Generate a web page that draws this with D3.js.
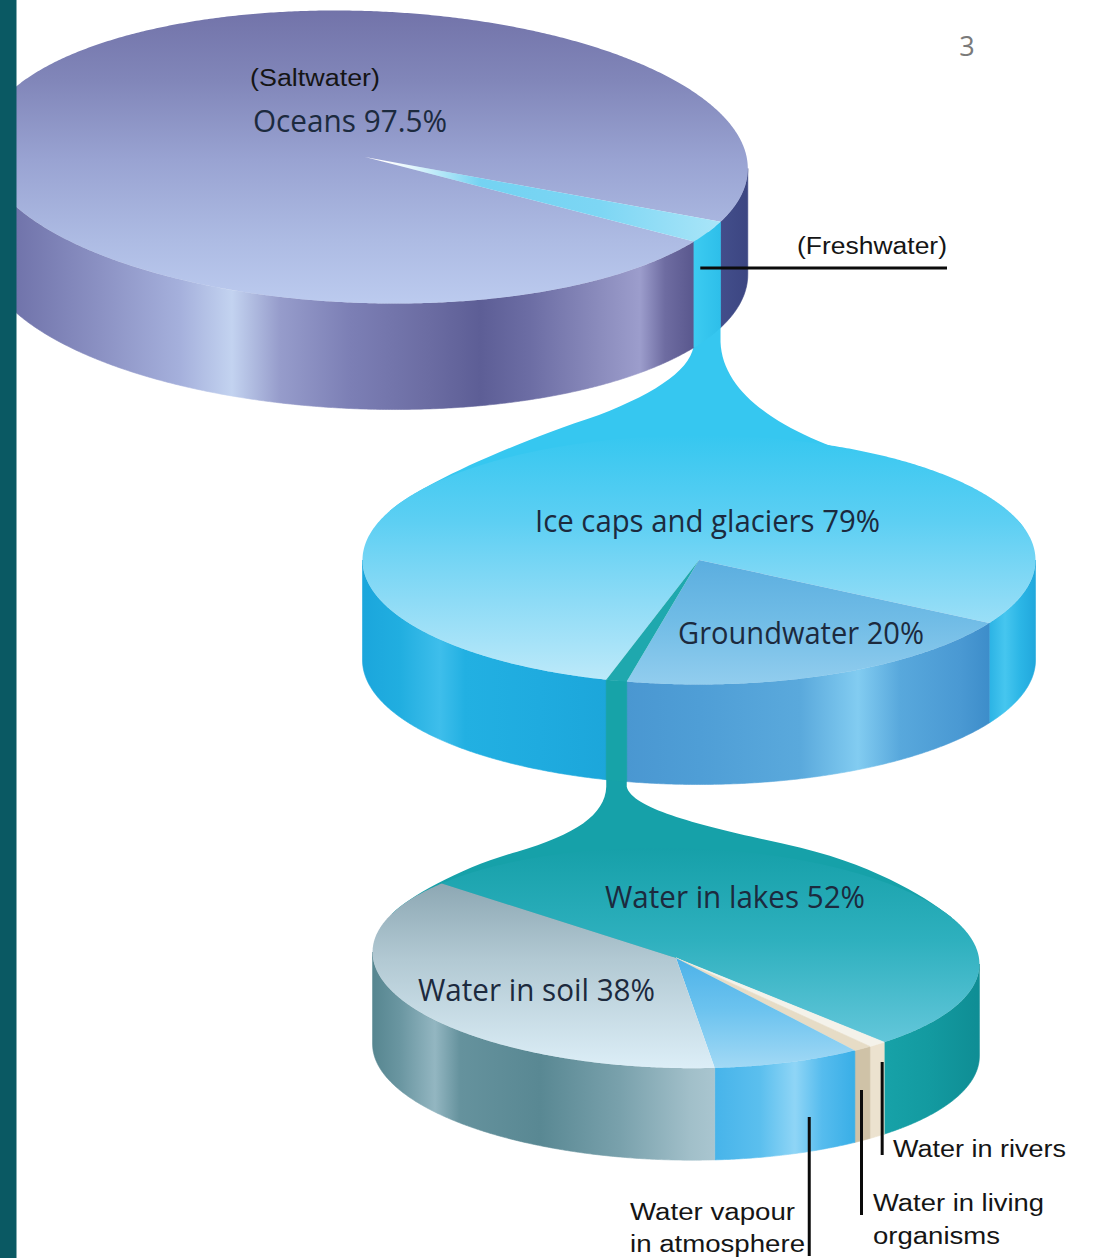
<!DOCTYPE html>
<html>
<head>
<meta charset="utf-8">
<script src="https://cdn.jsdelivr.net/npm/d3@7"></script>
<style>
  html, body { margin: 0; padding: 0; background: #ffffff; }
  svg { display: block; }
</style>
</head>
<body>
<svg id="chart" width="1094" height="1258"></svg>
<script>
// Where the Earth's water is: three stacked 3-D pies, each one breaking down
// a slice of the pie above it.

// All water
const totalLabels = ["Oceans", "Freshwater"];
const totalValues = [97.5, 2.5];

// Freshwater
const freshLabels = ["Ice caps and glaciers", "Groundwater", "Surface water"];
const freshValues = [79, 20, 1];

// Surface water, in clockwise drawing order
const surfaceLabels = ["Water in lakes", "Water in rivers", "Water in living organisms",
                       "Water vapour in atmosphere", "Water in soil"];
const surfaceValues = [52, 1, 1, 8, 38];

// ---------------------------------------------------------------------------
const RAD = Math.PI / 180;
const svg = d3.select("#chart");
const defs = svg.append("defs");

// Disc geometry: centre, radii of the tilted ellipse, rotation, thickness,
// and the angle (d3 convention, degrees) where the first slice starts.
const discs = {
  total:   { cx: 365, cy: 157, a: 383,   b: 146,   phi: 2,   h: 106, start: 120 },
  fresh:   { cx: 699, cy: 560, a: 336.5, b: 124.5, phi: 0,   h: 100, start: 196 },
  surface: { cx: 676, cy: 958, a: 303.5, b: 110,   phi: 1.3, h: 92,  start: 309 }
};

// Point on the rim of a disc; t is measured clockwise from 3 o'clock.
function rim(g, t, z = 0) {
  const c = Math.cos(t), s = Math.sin(t);
  const cp = Math.cos(g.phi * RAD), sp = Math.sin(g.phi * RAD);
  return [g.cx + g.a * c * cp - g.b * s * sp,
          g.cy + g.a * c * sp + g.b * s * cp + z];
}
// unit tangent of the rim, in the direction of increasing t
function rimTangent(g, t) {
  const cp = Math.cos(g.phi * RAD), sp = Math.sin(g.phi * RAD);
  const dx = -g.a * Math.sin(t) * cp - g.b * Math.cos(t) * sp;
  const dy = -g.a * Math.sin(t) * sp + g.b * Math.cos(t) * cp;
  const n = Math.hypot(dx, dy);
  return [dx / n, dy / n];
}
function rimPts(g, t0, t1, z = 0) {
  const n = Math.max(2, Math.ceil(Math.abs(t1 - t0) / 0.008));
  return d3.range(n + 1).map(i => rim(g, t0 + (t1 - t0) * i / n, z));
}
const line = d3.line();

function layout(g, values) {
  return d3.pie().sort(null).value(d => d)
    .startAngle(g.start * RAD).endAngle(g.start * RAD + 2 * Math.PI)(values)
    .map(d => Object.assign(d, { t0: d.startAngle - Math.PI / 2, t1: d.endAngle - Math.PI / 2 }));
}

let gid = 0;
function grad(stops, x1, y1, x2, y2) {
  const id = "grad" + (gid++);
  const lg = defs.append("linearGradient").attr("id", id)
    .attr("gradientUnits", "userSpaceOnUse")
    .attr("x1", x1).attr("y1", y1).attr("x2", x2).attr("y2", y2);
  stops.forEach(([o, c, op]) => lg.append("stop").attr("offset", o)
    .attr("stop-color", c).attr("stop-opacity", op == null ? 1 : op));
  return `url(#${id})`;
}
// gradient along x, stops given as [x, colour]
function hgrad(stops) {
  const x1 = stops[0][0], x2 = stops[stops.length - 1][0];
  return grad(stops.map(([x, c, op]) => [(x - x1) / (x2 - x1), c, op]), x1, 0, x2, 0);
}
// gradient along y, stops given as [y, colour]
function vgrad(stops) {
  const y1 = stops[0][0], y2 = stops[stops.length - 1][0];
  return grad(stops.map(([y, c, op]) => [(y - y1) / (y2 - y1), c, op]), 0, y1, 0, y2);
}

function drawDisc(layer, g, arcs, styles) {
  const phi = g.phi * RAD;
  const tv0 = Math.atan2(-g.b * Math.sin(phi), g.a * Math.cos(phi));
  // front walls
  arcs.forEach((d, i) => {
    for (let k = -1; k <= 1; k++) {
      const lo = Math.max(d.t0, tv0 + 2 * Math.PI * k);
      const hi = Math.min(d.t1, tv0 + Math.PI + 2 * Math.PI * k);
      if (hi > lo) {
        const pts = rimPts(g, lo, hi, 0).concat(rimPts(g, hi, lo, g.h));
        layer.append("path").attr("d", line(pts) + "Z")
          .attr("fill", styles[i].side).attr("stroke", styles[i].side).attr("stroke-width", 0.6);
      }
    }
  });
  // top faces
  arcs.forEach((d, i) => {
    const pts = [[g.cx, g.cy]].concat(rimPts(g, d.t0, d.t1, 0));
    layer.append("path").attr("d", line(pts) + "Z")
      .attr("fill", styles[i].face).attr("stroke", styles[i].faceStroke || "none")
      .attr("stroke-width", 0.6);
  });
}

const totalArcs = layout(discs.total, totalValues);
const freshArcs = layout(discs.fresh, freshValues);
const surfaceArcs = layout(discs.surface, surfaceValues);

const funnelLayer = svg.append("g");
const discLayer = svg.append("g");

// ---- connectors between the discs ----------------------------------------
function mid(d) { return (d.t0 + d.t1) / 2; }

// A flared spout from a thin slice s of disc G down onto disc L.
// Left-hand offsets are relative to the neck; on the right, `fromRim` is
// relative to the rim point and the rest relative to the neck.
function spout(G, s, L, tLeft, tRight, shape, fill) {
  const xL = rim(G, s.t1)[0], xR = rim(G, s.t0)[0];
  const yTop = rim(G, mid(s))[1];
  const neckY = rim(G, mid(s), G.h)[1] + shape.drop;
  const A = rim(L, tLeft * RAD), B = rim(L, tRight * RAD);
  const tA = rimTangent(L, tLeft * RAD), tB = rimTangent(L, tRight * RAD);
  const k = shape.pull;
  const l = shape.left, r = shape.right, f = shape.fromRim;
  const p = d3.path();
  p.moveTo(xL, yTop);
  p.lineTo(xL, neckY);
  p.bezierCurveTo(xL + l[0][0], neckY + l[0][1], xL + l[1][0], neckY + l[1][1], xL + l[2][0], neckY + l[2][1]);
  p.bezierCurveTo(xL + l[3][0], neckY + l[3][1], A[0] + tA[0] * k, A[1] + tA[1] * k, A[0], A[1]);
  p.lineTo(L.cx, L.cy);
  p.lineTo(B[0], B[1]);
  p.bezierCurveTo(B[0] - tB[0] * k, B[1] - tB[1] * k, B[0] + f[0], B[1] + f[1], xR + r[0][0], neckY + r[0][1]);
  p.bezierCurveTo(xR + r[1][0], neckY + r[1][1], xR + r[2][0], neckY + r[2][1], xR, neckY);
  p.lineTo(xR, yTop);
  p.closePath();
  funnelLayer.append("path").attr("d", p.toString()).attr("fill", fill);
}

// freshwater slice pouring into the freshwater disc
spout(discs.total, totalArcs[1], discs.fresh, 203, -15, {
  drop: 4, pull: 34,
  left: [[0, 25], [-35, 50], [-95, 73], [-200, 108]],
  fromRim: [-64, -43],
  right: [[150, 117], [70, 95], [2, 55]]
}, "#36c7f0");

// surface-water slice pouring into the surface-water disc
spout(discs.fresh, freshArcs[2], discs.surface, 200, -25, {
  drop: 6, pull: 26,
  left: [[-1, 28], [-31, 48], [-89, 65], [-146, 81]],
  fromRim: [-70, -50],
  right: [[174, 61], [94, 43], [6, 25]]
}, "#16a1a9");

// ---- colours ---------------------------------------------------------------
const totalStyles = [
  { // oceans
    face: vgrad([[10, "#7273a9"], [80, "#8186b9"], [160, "#99a3d2"], [240, "#adbbe3"], [305, "#bccbef"]]),
    side: hgrad([[17, "#7174ab"], [100, "#8b91c3"], [180, "#a5b0dc"], [232, "#c3d3f0"], [280, "#969ccb"],
                 [350, "#7c7fb5"], [430, "#6b6ca2"], [480, "#5d5e96"], [530, "#6c6da4"], [600, "#8b8cbd"],
                 [640, "#9c9dcc"], [665, "#6e6ca1"], [690, "#5c5a90"], [720, "#434e8b"], [748, "#3c4682"]])
  },
  { // freshwater
    face: hgrad([[385, "#5ccbf0", 0], [410, "#5ccbf0", 0.15], [480, "#5ccbf0", 0.85], [600, "#7dd6f4"], [720, "#a9e5f8"]]),
    side: hgrad([[694, "#3ccbf1"], [720, "#2ebfea"]])
  }
];

const freshStyles = [
  { // ice caps and glaciers
    face: vgrad([[435, "#36c7f0"], [520, "#5ccff3"], [600, "#8ddbf6"], [690, "#c2ebfa"]]),
    side: hgrad([[362, "#1ba6dc"], [400, "#21aee0"], [440, "#3ebeeb"], [465, "#22b0e2"], [540, "#1fabdf"],
                 [610, "#1ca6da"], [985, "#24aee2"], [1005, "#46c6ef"], [1020, "#2cb6e6"], [1036, "#20a7dc"]])
  },
  { // groundwater
    face: vgrad([[557, "#5aaddf"], [620, "#70bce6"], [685, "#92cdee"]]),
    side: hgrad([[626, "#4a97d1"], [700, "#4f9ed6"], [800, "#5aa9dc"], [858, "#82ccf1"], [900, "#58a8dc"],
                 [960, "#4a99d3"], [992, "#3c8cc9"]])
  },
  { // surface water
    face: "#1fa8ae",
    side: "#17a3a8"
  }
];

const surfaceStyles = [
  { // lakes
    face: vgrad([[848, "#16a0a9"], [940, "#2eb0be"], [1045, "#64c7db"]]),
    side: hgrad([[884, "#17a2a8"], [930, "#139aa0"], [976, "#0f8e95"]])
  },
  { // rivers
    face: "#f4f2ea", faceStroke: "#f4f2ea",
    side: "#ece2cf"
  },
  { // living organisms
    face: "#e6dcc6", faceStroke: "#e6dcc6",
    side: "#cfc2a7"
  },
  { // vapour
    face: vgrad([[955, "#4bb1e8"], [1010, "#6cc3ef"], [1068, "#a2d9f5"]]),
    side: hgrad([[715, "#47b4ea"], [760, "#5bbfee"], [795, "#8fd5f6"], [822, "#56bcee"], [858, "#36ade6"]])
  },
  { // soil
    face: vgrad([[880, "#8ba6b2"], [960, "#b2c9d3"], [1068, "#dceef7"]]),
    side: hgrad([[368, "#53838d"], [400, "#6a96a1"], [435, "#93b6c1"], [460, "#65929d"], [540, "#598893"],
                 [620, "#79a1ac"], [690, "#a1bfc9"], [717, "#aac6d0"]])
  }
];

drawDisc(discLayer, discs.surface, surfaceArcs, surfaceStyles);
drawDisc(discLayer, discs.fresh, freshArcs, freshStyles);
drawDisc(discLayer, discs.total, totalArcs, totalStyles);

// ---- labels ------------------------------------------------------------------
const ink = "#1c2a3e";
const labels = svg.append("g");

function bigLabel(text, x, y, width) {
  labels.append("text").attr("x", x).attr("y", y)
    .attr("font-family", "'Open Sans', 'Noto Sans', sans-serif")
    .attr("font-size", 31).attr("fill", ink)
    .attr("textLength", width).attr("lengthAdjust", "spacingAndGlyphs")
    .text(text);
}
function smallLabel(text, x, y, width) {
  labels.append("text").attr("x", x).attr("y", y)
    .attr("font-family", "'Liberation Sans', Arial, sans-serif")
    .attr("font-size", 23).attr("fill", "#151515")
    .attr("textLength", width).attr("lengthAdjust", "spacingAndGlyphs")
    .text(text);
}
const pct = v => d3.format(".3~f")(v) + "%";

smallLabel("(Saltwater)", 250, 86, 130);
bigLabel(`${totalLabels[0]} ${pct(totalValues[0])}`, 253, 132, 194);
smallLabel(`(${totalLabels[1]})`, 797, 254, 150);

bigLabel(`${freshLabels[0]} ${pct(freshValues[0])}`, 535, 532, 345);
bigLabel(`${freshLabels[1]} ${pct(freshValues[1])}`, 678, 644, 246);

bigLabel(`${surfaceLabels[0]} ${pct(surfaceValues[0])}`, 605, 908, 260);
bigLabel(`${surfaceLabels[4]} ${pct(surfaceValues[4])}`, 418, 1001, 237);

smallLabel(surfaceLabels[1], 893, 1157, 173);
smallLabel("Water in living", 873, 1211, 171);
smallLabel("organisms", 873, 1244, 127);
smallLabel("Water vapour", 630, 1220, 165);
smallLabel("in atmosphere", 630, 1252, 175);

// leader lines
const leaders = svg.append("g").attr("stroke", "#0b0b0b").attr("stroke-width", 3);
(function () {
  const fw = totalArcs[1];
  const x0 = rim(discs.total, mid(fw))[0] - 8;
  leaders.append("line").attr("x1", x0).attr("x2", 947).attr("y1", 268).attr("y2", 268);

  const S = discs.surface;
  const riv = surfaceArcs[1], liv = surfaceArcs[2], vap = surfaceArcs[3];
  const xr = rim(S, mid(riv))[0] + 5;
  leaders.append("line").attr("x1", xr).attr("x2", xr).attr("y1", 1062).attr("y2", 1155);
  const xl = rim(S, mid(liv))[0] - 1;
  leaders.append("line").attr("x1", xl).attr("x2", xl).attr("y1", 1090).attr("y2", 1215);
  const tv = vap.t0 + 0.35 * (vap.t1 - vap.t0);
  const xv = rim(S, tv)[0];
  leaders.append("line").attr("x1", xv).attr("x2", xv).attr("y1", 1117).attr("y2", 1256);
})();

// page number
svg.append("text").attr("x", 967).attr("y", 56).attr("text-anchor", "middle")
  .attr("font-family", "'Open Sans', sans-serif").attr("font-size", 27)
  .attr("fill", "#7a7a7a").text("3");

// dark band down the left edge
svg.append("rect").attr("x", 0).attr("y", 0).attr("width", 16.5).attr("height", 1258)
  .attr("fill", "#0a5963");
</script>
</body>
</html>
